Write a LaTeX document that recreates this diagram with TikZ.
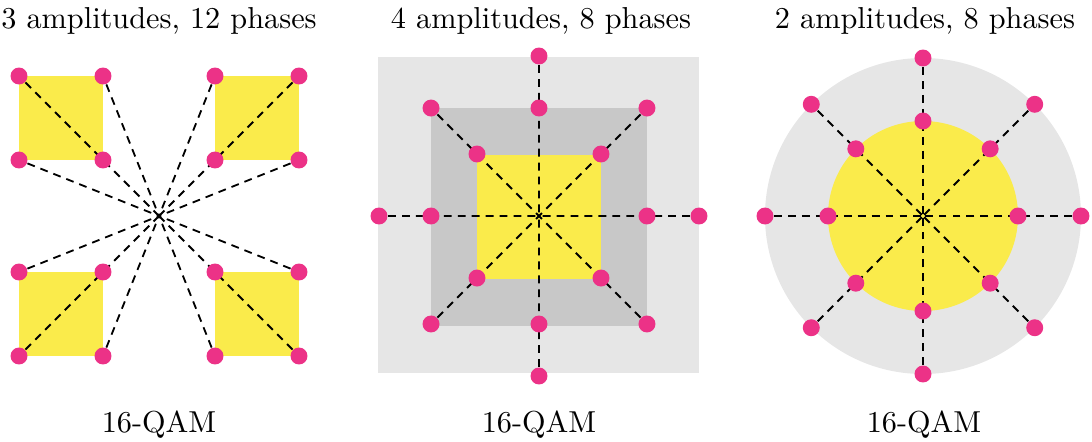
\documentclass[tikz,border=0pt]{standalone}
\usetikzlibrary{positioning}

\definecolor{dotpink}{HTML}{EC3287}
\definecolor{fillyellow}{HTML}{FAEB4B}
\definecolor{bglight}{HTML}{E6E6E6}
\definecolor{bgdark}{HTML}{C8C8C8}

\pgfdeclarelayer{bg}
\pgfdeclarelayer{mid}
\pgfsetlayers{bg,mid,main}

\tikzset{
	pt/.style={circle, fill=dotpink, inner sep=0pt, minimum size=5.6pt},
	ray/.style={dash pattern=on 2.6pt off 2pt, line width=0.6pt},
	caption/.style={anchor=base, inner sep=0pt}
}

\begin{document}
\begin{tikzpicture}[x=0.33pt, y=-0.33pt]
	\useasboundingbox (0,0) rectangle (1092,441);
	
	% === 左：3 amplitudes, 12 phases ===
	\begin{scope}[shift={(159,216)}]
		\coordinate (lc) at (0,0);
		\begin{pgfonlayer}{bg}
			\foreach \sx/\sy in {1/1,-1/1,1/-1,-1/-1}
				\fill[fillyellow] (56*\sx,56*\sy) rectangle (140*\sx,140*\sy);
		\end{pgfonlayer}
		
		% 星座点
		\foreach \px/\py [count=\i] in {56/56,140/56,56/140,140/140,
			-56/56,-140/56,-56/140,-140/140,
			56/-56,140/-56,56/-140,140/-140,
			-56/-56,-140/-56,-56/-140,-140/-140}
			\node[pt] (l\i) at (\px,\py) {};
		
		\begin{pgfonlayer}{mid}
			\foreach \i in {2,4,6,8,10,12,14,16}
				\draw[ray] (l\i) -- (lc);
			\foreach \i in {3,7,11,15}
				\draw[ray] (l\i) -- (lc);
		\end{pgfonlayer}
		
		\node[caption] (t1) at (0,-188) {3 amplitudes, 12 phases};
		\node[caption] (q1) at (0,216) {16-QAM};
	\end{scope}
	
	% === 中：4 amplitudes, 8 phases ===
	\begin{scope}[shift={(539,216)}]
		\coordinate (mc) at (0,0);
		\begin{pgfonlayer}{bg}
			\fill[bglight] (-161,-159) rectangle (160,157);
			\fill[bgdark] (-108,-108) rectangle (108,110);
			\fill[fillyellow] (-62,-61) rectangle (62,63);
		\end{pgfonlayer}
		
		% 星座点
		\foreach \ang [count=\i] in {0,90,180,270} {
			\node[pt] (mo\i) at (\ang:160) {};
			\node[pt] (ma\i) at (\ang:108) {};
		}
		\foreach \ang [count=\i] in {45,135,225,315} {
			\node[pt] (md\i) at (\ang:152.7) {};
			\node[pt] (mi\i) at (\ang:87.7) {};
		}
		
		\begin{pgfonlayer}{mid}
			\foreach \i in {1,...,4}
				\draw[ray] (mo\i) -- (mc) (md\i) -- (mc);
		\end{pgfonlayer}
		
		\node[caption] (t2) at (2,-188) {4 amplitudes, 8 phases};
		\node[caption] (q2) at (0,216) {16-QAM};
	\end{scope}
	
	% === 右：2 amplitudes, 8 phases ===
	\begin{scope}[shift={(923,216)}]
		\coordinate (rc) at (0,0);
		\begin{pgfonlayer}{bg}
			\fill[bglight] (0,0) circle (158);
			\fill[fillyellow] (0,0) circle (95);
		\end{pgfonlayer}
		
		% 星座点
		\foreach \ang [count=\i] in {0,45,...,315} {
			\node[pt] (ro\i) at (\ang:158) {};
			\node[pt] (ri\i) at (\ang:95) {};
		}
		
		\begin{pgfonlayer}{mid}
			\foreach \i in {1,...,8}
				\draw[ray] (ro\i) -- (rc);
		\end{pgfonlayer}
		
		\node[caption] (t3) at (2,-188) {2 amplitudes, 8 phases};
		\node[caption] (q3) at (1,216) {16-QAM};
	\end{scope}
\end{tikzpicture}
\end{document}
